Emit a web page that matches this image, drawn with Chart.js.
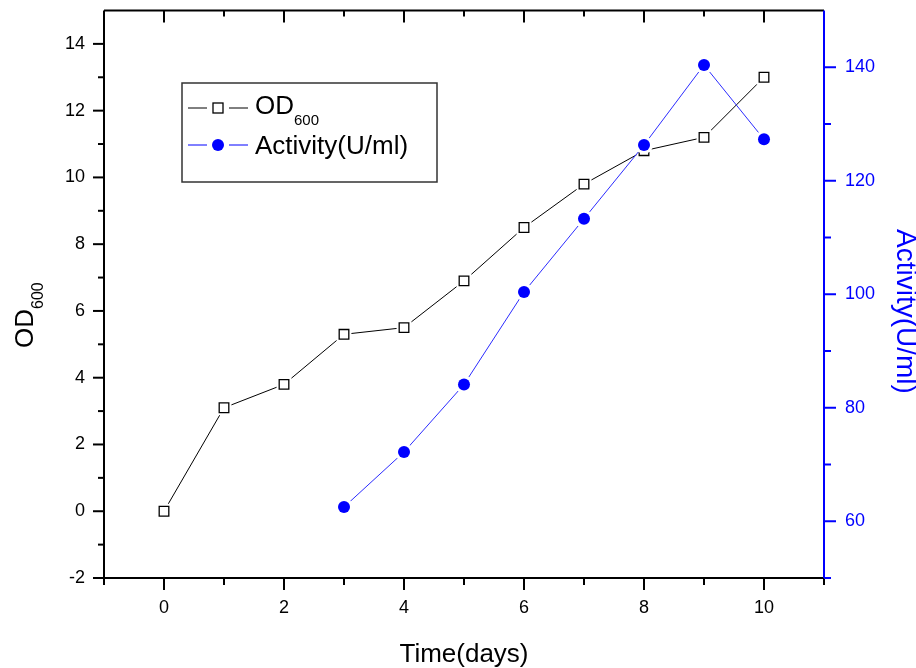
<!DOCTYPE html>
<html>
<head>
<meta charset="utf-8">
<script src="https://cdn.jsdelivr.net/npm/chart.js@4/dist/chart.umd.min.js"></script>
<style>
  html, body { margin: 0; padding: 0; background: #fff; }
  #chart { display: block; }
</style>
</head>
<body>
<canvas id="chart" width="916" height="668"></canvas>
<script>
// データ
const days = [0, 1, 2, 3, 4, 5, 6, 7, 8, 9, 10];
const od600 = [0, 3.1, 3.8, 5.3, 5.5, 6.9, 8.5, 9.8, 10.8, 11.2, 13.0];
const activity = [null, null, null, 62.5, 72.2, 84.1, 100.4, 113.3, 126.3, 140.4, 127.3];

// 目盛りラベル
const xTicks = [0, 2, 4, 6, 8, 10];
const odTicks = [-2, 0, 2, 4, 6, 8, 10, 12, 14];
const actTicks = [60, 80, 100, 120, 140];

const BLUE = '#0000ff';
const FONT = "'Liberation Sans', Arial, sans-serif";

const toPoints = values => days.map((d, i) => ({ x: d, y: values[i] }));

// 軸・目盛り・凡例・軸タイトルを描くプラグイン
const originFrame = {
    id: 'originFrame',
    afterDraw(chart) {
        const { ctx, chartArea: a, scales } = chart;
        const x = scales.x, y = scales.y, y1 = scales.y1;
        const line = (x1, yA, x2, yB) => {
            ctx.beginPath();
            ctx.moveTo(x1, yA);
            ctx.lineTo(x2, yB);
            ctx.stroke();
        };

        ctx.save();
        ctx.lineWidth = 2;
        ctx.strokeStyle = '#000';

        // 枠線
        line(a.left, a.top, a.right, a.top);
        line(a.left, a.top, a.left, a.bottom);
        line(a.left, a.bottom, a.right, a.bottom);

        // 下と上の目盛り
        for (let v = -1; v <= 11; v++) {
            const px = x.getPixelForValue(v);
            line(px, a.bottom, px, a.bottom + (v % 2 === 0 ? 12 : 7));
            if (v >= 0 && v <= 10) {
                line(px, a.top, px, a.top + (v % 2 === 0 ? 12 : 6));
            }
        }
        // 左の目盛り
        for (let v = -2; v <= 14; v++) {
            const py = y.getPixelForValue(v);
            line(a.left, py, a.left - (v % 2 === 0 ? 11 : 6), py);
        }
        // 右の軸 (青)
        ctx.strokeStyle = BLUE;
        line(a.right, a.top, a.right, a.bottom);
        for (let v = 50; v <= 140; v += 10) {
            const py = y1.getPixelForValue(v);
            line(a.right, py, a.right + (v % 20 === 0 ? 12 : 7), py);
        }

        // 軸タイトル
        ctx.fillStyle = '#000';
        ctx.textBaseline = 'alphabetic';
        ctx.font = '26px ' + FONT;
        ctx.textAlign = 'center';
        ctx.fillText('Time(days)', (a.left + a.right) / 2, 662);

        ctx.textAlign = 'left';
        ctx.save();
        ctx.translate(33, 348);
        ctx.rotate(-Math.PI / 2);
        ctx.fillText('OD', 0, 0);
        const odW = ctx.measureText('OD').width;
        ctx.font = '16px ' + FONT;
        ctx.fillText('600', odW, 10);
        ctx.restore();

        ctx.save();
        ctx.fillStyle = BLUE;
        ctx.font = '28px ' + FONT;
        ctx.translate(897, 229);
        ctx.rotate(Math.PI / 2);
        ctx.fillText('Activity(U/ml)', 0, 0);
        ctx.restore();

        // 凡例
        ctx.lineWidth = 1.5;
        ctx.strokeStyle = '#333';
        ctx.strokeRect(182, 83, 255, 99);

        ctx.lineWidth = 1;
        ctx.strokeStyle = '#000';
        line(188, 108, 207, 108);
        line(229, 108, 248, 108);
        ctx.lineWidth = 1.3;
        ctx.fillStyle = '#fff';
        ctx.fillRect(213, 103, 10, 10);
        ctx.strokeRect(213, 103, 10, 10);

        ctx.lineWidth = 1;
        ctx.strokeStyle = BLUE;
        line(188, 145, 207, 145);
        line(229, 145, 248, 145);
        ctx.fillStyle = BLUE;
        ctx.beginPath();
        ctx.arc(218, 145, 6, 0, Math.PI * 2);
        ctx.fill();

        ctx.fillStyle = '#000';
        ctx.font = '26px ' + FONT;
        ctx.fillText('OD', 255, 114);
        const w = ctx.measureText('OD').width;
        ctx.font = '15px ' + FONT;
        ctx.fillText('600', 255 + w, 125);
        ctx.font = '26px ' + FONT;
        ctx.fillText('Activity(U/ml)', 255, 154);

        ctx.restore();
    }
};

const fixed = size => scale => {
    if (scale.isHorizontal()) {
        scale.height = size;
        scale.paddingLeft = 0;
        scale.paddingRight = 0;
    } else {
        scale.width = size;
        scale.paddingTop = 0;
        scale.paddingBottom = 0;
    }
};
const setTicks = values => scale => {
    scale.ticks = values.map(v => ({ value: v }));
};

new Chart(document.getElementById('chart'), {
    type: 'line',
    data: {
        datasets: [
            {
                // OD600 の線 (白い四角で点の周りを空ける)
                label: 'OD600',
                data: toPoints(od600),
                borderColor: '#000',
                borderWidth: 1,
                pointStyle: 'rect',
                pointRadius: 10.5,
                pointBackgroundColor: '#fff',
                pointBorderWidth: 0,
                tension: 0,
                order: 4,
                yAxisID: 'y',
            },
            {
                label: 'OD600 markers',
                data: toPoints(od600),
                showLine: false,
                pointStyle: 'rect',
                pointRadius: 6.8,
                pointBackgroundColor: '#fff',
                pointBorderColor: '#000',
                pointBorderWidth: 1.3,
                order: 3,
                yAxisID: 'y',
            },
            {
                label: 'Activity(U/ml)',
                data: toPoints(activity),
                borderColor: '#2b2bff',
                borderWidth: 1,
                pointStyle: 'circle',
                pointRadius: 9,
                pointBackgroundColor: '#fff',
                pointBorderWidth: 0,
                tension: 0,
                spanGaps: false,
                order: 2,
                yAxisID: 'y1',
            },
            {
                label: 'Activity markers',
                data: toPoints(activity),
                showLine: false,
                pointStyle: 'circle',
                pointRadius: 6,
                pointBackgroundColor: BLUE,
                pointBorderColor: BLUE,
                pointBorderWidth: 0,
                order: 1,
                yAxisID: 'y1',
            },
        ],
    },
    options: {
        responsive: false,
        animation: false,
        events: [],
        layout: { padding: { top: 10, left: 0, right: 0, bottom: 0 } },
        plugins: {
            legend: { display: false },
            tooltip: { enabled: false },
        },
        scales: {
            x: {
                type: 'linear',
                min: -1,
                max: 11,
                grid: { display: false, drawTicks: false },
                border: { display: false },
                afterBuildTicks: setTicks(xTicks),
                afterFit: fixed(90),
                ticks: { color: '#000', padding: 19, maxRotation: 0, font: { family: FONT, size: 18 } },
            },
            y: {
                type: 'linear',
                position: 'left',
                min: -2,
                max: 15,
                grid: { display: false, drawTicks: false },
                border: { display: false },
                afterBuildTicks: setTicks(odTicks),
                afterFit: fixed(104),
                ticks: { color: '#000', padding: 19, font: { family: FONT, size: 18 } },
            },
            y1: {
                type: 'linear',
                position: 'right',
                min: 50,
                max: 150,
                grid: { display: false, drawTicks: false },
                border: { display: false },
                afterBuildTicks: setTicks(actTicks),
                afterFit: fixed(92),
                ticks: { color: BLUE, padding: 21, font: { family: FONT, size: 18 } },
            },
        },
    },
    plugins: [originFrame],
});
</script>
</body>
</html>
